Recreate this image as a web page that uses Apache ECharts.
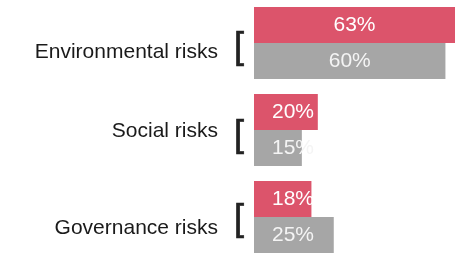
<!DOCTYPE html>
<html>
<head>
<meta charset="utf-8">
<script src="https://cdn.jsdelivr.net/npm/echarts@6/dist/echarts.min.js"></script>
<style>
  html, body { margin: 0; padding: 0; background: #fff; }
  #chart { width: 462px; height: 253px; }
</style>
</head>
<body>
<div id="chart"></div>
<script>
// Data
const categories = ['Environmental risks', 'Social risks', 'Governance risks'];
const currentValues = [63, 20, 18];
const previousValues = [60, 15, 25];

// Small per-row nudges of the side labels (px, + is down)
const nameShift = [9, 1, 11];
const bracketShift = [5, 6, 3];

const FONT = '"Liberation Sans", Arial, sans-serif';

// Build rich styles that shift a label up/down by padding one side
function shiftStyles(prefix, shifts, base) {
    const rich = {};
    shifts.forEach((s, i) => {
        rich[prefix + i] = Object.assign({}, base, {
            padding: s >= 0 ? [2 * s, 0, 0, 0] : [0, 0, -2 * s, 0]
        });
    });
    return rich;
}

// Short bars get their label near the left edge, long ones centred
function barData(values) {
    return values.map(v => ({
        value: v,
        label: v > 40 ? { position: 'inside' } : { position: 'insideLeft', distance: 18 }
    }));
}

const chart = echarts.init(document.getElementById('chart'));

const option = {
    animation: false,
    backgroundColor: '#fff',
    grid: { left: 254, right: 7, top: -0.5, height: 261, outerBoundsMode: 'none', containLabel: false },
    xAxis: { type: 'value', min: 0, max: 63, show: false },
    yAxis: [
        {
            type: 'category',
            data: categories,
            inverse: true,
            position: 'left',
            axisLine: { show: false },
            axisTick: { show: false },
            axisLabel: {
                margin: 36,
                formatter: (value, idx) => `{n${idx}|${value}}`,
                rich: shiftStyles('n', nameShift, { fontSize: 21, fontFamily: FONT, color: '#1a1a1a' })
            }
        },
        {
            type: 'category',
            data: categories,
            inverse: true,
            position: 'left',
            axisLine: { show: false },
            axisTick: { show: false },
            axisLabel: {
                margin: 10,
                formatter: (value, idx) => `{b${idx}|[}`,
                rich: shiftStyles('b', bracketShift, {
                    fontSize: 36, fontFamily: FONT, color: '#222',
                    textBorderColor: '#222', textBorderWidth: 0.7
                })
            }
        }
    ],
    series: [
        {
            name: 'Current',
            type: 'bar',
            data: barData(currentValues),
            barWidth: 36,
            barGap: '0%',
            itemStyle: { color: '#dc546b' },
            label: {
                show: true,
                formatter: '{c}%',
                color: '#ffffff',
                fontSize: 21,
                fontFamily: FONT
            }
        },
        {
            name: 'Previous',
            type: 'bar',
            data: barData(previousValues),
            barWidth: 36,
            barGap: '0%',
            itemStyle: { color: '#a6a6a6' },
            label: {
                show: true,
                formatter: '{c}%',
                color: '#f4f4f4',
                fontSize: 21,
                fontFamily: FONT
            }
        }
    ]
};

chart.setOption(option);
</script>
</body>
</html>
